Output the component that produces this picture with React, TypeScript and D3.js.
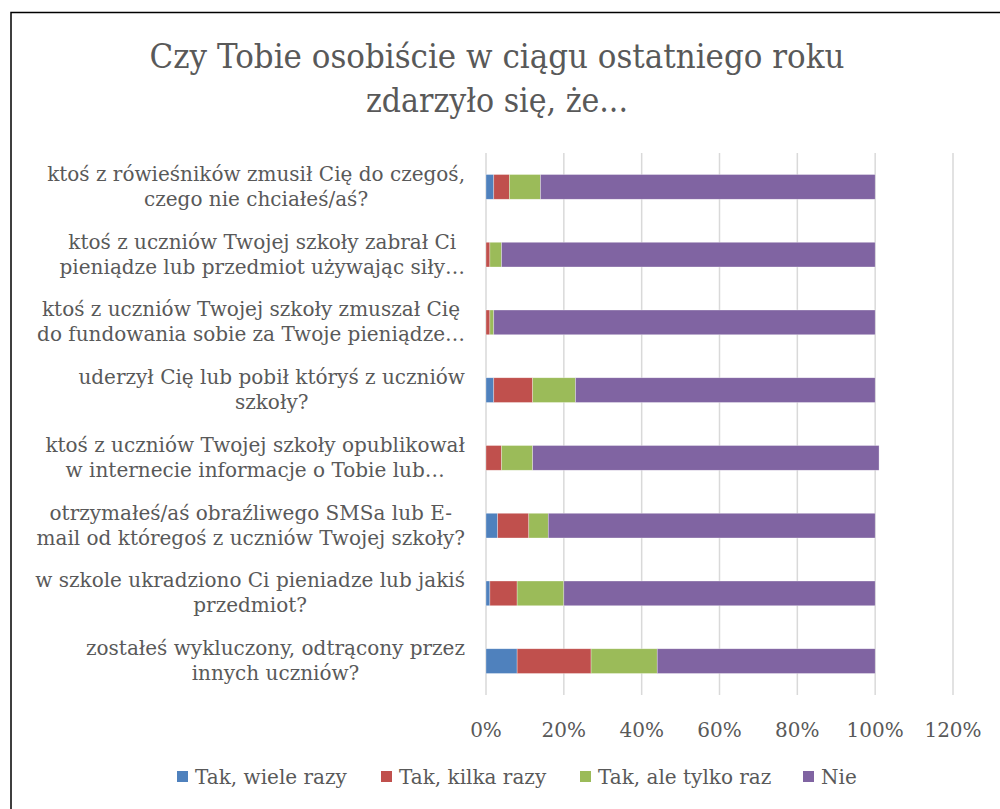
import React, { useEffect, useRef } from "react";
import * as d3 from "d3";

const categories: string[][] = [
  ["ktoś z rówieśników zmusił Cię do czegoś,", "czego nie chciałeś/aś?"],
  ["ktoś z uczniów Twojej szkoły zabrał Ci", "pieniądze lub przedmiot używając siły…"],
  ["ktoś z uczniów Twojej szkoły zmuszał Cię", "do fundowania sobie za Twoje pieniądze…"],
  ["uderzył Cię lub pobił któryś z uczniów", "szkoły?"],
  ["ktoś z uczniów Twojej szkoły opublikował", "w internecie informacje o Tobie lub…"],
  ["otrzymałeś/aś obraźliwego SMSa lub E-", "mail od któregoś z uczniów Twojej szkoły?"],
  ["w szkole ukradziono Ci pieniadze lub jakiś", "przedmiot?"],
  ["zostałeś wykluczony, odtrącony przez", "innych uczniów?"],
];

const seriesNames = ["Tak, wiele razy", "Tak, kilka razy", "Tak, ale tylko raz", "Nie"];
const wieleRazy = [2, 0, 0, 2, 0, 3, 1, 8];
const kilkaRazy = [4, 1, 1, 10, 4, 8, 7, 19];
const tylkoRaz = [8, 3, 1, 11, 8, 5, 12, 17];
const nie = [86, 96, 98, 77, 89, 84, 80, 56];
const colors = ["#4F81BD", "#C0504D", "#9BBB59", "#8064A2"];
const xTicks = [0, 20, 40, 60, 80, 100, 120];
const titleLines = ["Czy Tobie osobiście w ciągu ostatniego roku", "zdarzyło się, że..."];

const FONT = "'DejaVu Serif', serif";
const TEXT = "#595959";

export default function App() {
  const ref = useRef<SVGSVGElement>(null);

  useEffect(() => {
    const svg = d3.select(ref.current);
    svg.selectAll("*").remove();

    const left = 486;
    const right = 953;
    const top = 153;
    const bottom = 695;

    const x = d3.scaleLinear().domain([0, 120]).range([left, right]);
    const keys = categories.map((_, i) => String(i));
    const y = d3
      .scaleBand<string>()
      .domain(keys)
      .range([top, bottom])
      .paddingInner(0.635)
      .paddingOuter(0.3175);

    // border
    svg
      .append("path")
      .attr("d", "M11,809 L11,12.5 L1000,12.5")
      .attr("fill", "none")
      .attr("stroke", "#000")
      .attr("stroke-width", 1.5);

    // title
    const title = svg
      .append("g")
      .attr("font-family", FONT)
      .attr("fill", TEXT)
      .attr("font-size", 34)
      .attr("text-anchor", "middle");
    title
      .selectAll("text")
      .data(titleLines)
      .join("text")
      .attr("x", 497)
      .attr("y", (_, i) => 68 + i * 44)
      .attr("textLength", (_, i) => (i === 0 ? 695 : 262))
      .attr("lengthAdjust", "spacingAndGlyphs")
      .text((d) => d);

    // gridlines
    svg
      .append("g")
      .selectAll("line")
      .data(xTicks)
      .join("line")
      .attr("x1", (d) => x(d))
      .attr("x2", (d) => x(d))
      .attr("y1", top)
      .attr("y2", bottom)
      .attr("stroke", "#D9D9D9")
      .attr("stroke-width", 1.5);

    // stacked bars
    const table = categories.map((_, i) => ({
      key: String(i),
      s0: wieleRazy[i],
      s1: kilkaRazy[i],
      s2: tylkoRaz[i],
      s3: nie[i],
    }));
    const stack = d3.stack<any>().keys(["s0", "s1", "s2", "s3"]);
    const stacked = stack(table);

    svg
      .append("g")
      .selectAll("g")
      .data(stacked)
      .join("g")
      .attr("fill", (_, i) => colors[i])
      .selectAll("rect")
      .data((d) => d)
      .join("rect")
      .attr("x", (d) => x(d[0]))
      .attr("width", (d) => Math.max(0, x(d[1]) - x(d[0])))
      .attr("y", (d) => y(d.data.key) as number)
      .attr("height", y.bandwidth())
      .attr("stroke", "#ffffff")
      .attr("stroke-opacity", 0.5)
      .attr("stroke-width", (d) => (d[1] - d[0] > 0 ? 0.6 : 0));

    // category labels
    const labelRight = 465;
    const lab = svg
      .append("g")
      .attr("font-family", FONT)
      .attr("font-size", 20)
      .attr("fill", TEXT)
      .attr("text-anchor", "middle");
    categories.forEach((lines, i) => {
      const cy = (y(String(i)) as number) + y.bandwidth() / 2;
      const g = lab.append("g");
      const texts = g
        .selectAll("text")
        .data(lines)
        .join("text")
        .attr("y", (_, j) => cy - 6 + j * 25)
        .text((d) => d);
      let maxW = 0;
      texts.each(function () {
        const w = (this as SVGTextElement).getComputedTextLength();
        if (w > maxW) maxW = w;
      });
      texts.attr("x", labelRight - maxW / 2);
    });

    // x tick labels
    svg
      .append("g")
      .attr("font-family", FONT)
      .attr("font-size", 20)
      .attr("fill", TEXT)
      .attr("text-anchor", "middle")
      .selectAll("text")
      .data(xTicks)
      .join("text")
      .attr("x", (d) => x(d))
      .attr("y", 737)
      .text((d) => `${d}%`);

    // legend
    const legendX = [177, 381, 580, 803];
    const leg = svg
      .append("g")
      .attr("font-family", FONT)
      .attr("font-size", 20)
      .attr("fill", TEXT);
    seriesNames.forEach((name, i) => {
      leg
        .append("rect")
        .attr("x", legendX[i])
        .attr("y", 771)
        .attr("width", 11)
        .attr("height", 11)
        .attr("fill", colors[i]);
      leg
        .append("text")
        .attr("x", legendX[i] + 18)
        .attr("y", 784)
        .text(name);
    });
  }, []);

  return (
    <svg
      ref={ref}
      width={1000}
      height={809}
      style={{ position: "absolute", left: 0, top: 0, background: "#fff" }}
    />
  );
}
